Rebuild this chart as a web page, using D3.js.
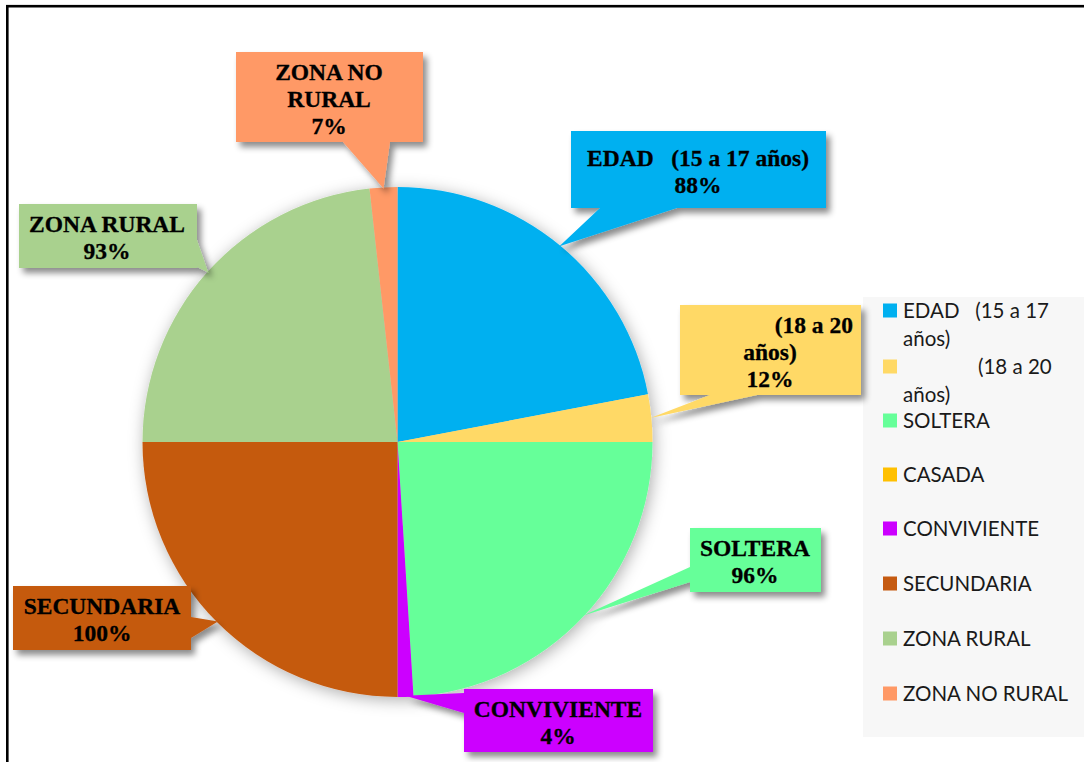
<!DOCTYPE html>
<html><head><meta charset="utf-8">
<script src="https://cdn.jsdelivr.net/npm/d3@7"></script>
<style>body{margin:0;background:#fff}svg{display:block}</style>
</head><body><svg id="c" width="1084" height="762"></svg>
<script>
// ---- data ----
const categories = ["EDAD   (15 a 17 años)", "(18 a 20 años)", "SOLTERA", "CASADA", "CONVIVIENTE", "SECUNDARIA", "ZONA RURAL", "ZONA NO RURAL"];
const values = [88, 12, 96, 0, 4, 100, 93, 7];
const percentLabels = ["88%", "12%", "96%", "0%", "4%", "100%", "93%", "7%"];
const colors = ["#00B0F0", "#FFD966", "#66FF99", "#FFC000", "#CC00FF", "#C55A11", "#A9D18E", "#FF9966"];

// ---- layout ----
const svg = d3.select("#c");
const cx = 397.5, cy = 442, R = 255;
const defs = svg.append("defs");
defs.append("filter").attr("id","pieShadow").attr("x","-20%").attr("y","-20%").attr("width","140%").attr("height","140%")
  .append("feDropShadow").attr("dx",2).attr("dy",3).attr("stdDeviation",8).attr("flood-color","#000").attr("flood-opacity",0.32);
defs.append("filter").attr("id","boxShadow").attr("x","-20%").attr("y","-20%").attr("width","140%").attr("height","150%")
  .append("feDropShadow").attr("dx",4).attr("dy",5).attr("stdDeviation",3).attr("flood-color","#000").attr("flood-opacity",0.45);

// frame
svg.append("rect").attr("x",7.3).attr("y",6.2).attr("width",1200).attr("height",900)
  .attr("fill","none").attr("stroke","#000").attr("stroke-width",2.6);

const pie = d3.pie().sort(null).value(d => d)(values);
const arc = d3.arc().innerRadius(0).outerRadius(R);
const tipArc = d3.arc().innerRadius(R - 1).outerRadius(R - 1);

const g = svg.append("g").attr("transform", `translate(${cx},${cy})`);
g.append("g").attr("filter","url(#pieShadow)")
  .selectAll("path").data(pie).join("path")
  .attr("d", arc).attr("fill", (d,i) => colors[i]);

// legend
const lg = svg.append("g");
lg.append("rect").attr("x",863).attr("y",297).attr("width",230).attr("height",440).attr("fill","#f7f7f7");
const legendY = [311, 367, 421, 475, 529, 584, 639, 694];
const legendIndent = [0, 75, 0, 0, 0, 0, 0, 0];
categories.forEach((name, i) => {
  const y = legendY[i];
  lg.append("rect").attr("x",883).attr("y",y-7.5).attr("width",14).attr("height",14).attr("fill",colors[i]);
  const parts = name.includes(" años)") ? [name.replace(" años)",""), "años)"] : [name];
  parts.forEach((p, j) => {
    lg.append("text").attr("x", 903 + (j === 0 ? legendIndent[i] : 0)).attr("y", y + 7 + j*28)
      .attr("font-family","Lato, 'Open Sans', sans-serif").attr("font-size",20.5)
      .attr("fill","#1a1a1a").style("white-space","pre").text(p);
  });
});

// callouts
const callouts = {
  0: {box:[571,131,255,77], side:"bottom", base:[600,677], cx:698},
  1: {box:[680,305,181,90], side:"bottom", base:[710,757], cx:770, breakAt:" años)", firstEnd:853},
  2: {box:[690,528,131,64], side:"left", base:[567,582], cx:755},
  4: {box:[464,689,189,63], side:"left", base:[693,713], cx:558},
  5: {box:[13,586,178,64], side:"right", base:[617,638], cx:102},
  6: {box:[19,204,178,64], side:"right", base:[240,267], cx:107},
  7: {box:[236,52,187,90], side:"bottom", base:[343,390], cx:329, breakAt:" RURAL"}
};
const lab = svg.append("g");
Object.keys(callouts).forEach(k => {
  const i = +k, c = callouts[k];
  const [x,y,w,h] = c.box;
  const t = tipArc.centroid(pie[i]);
  const tip = [cx + t[0], cy + t[1]];
  const pts = [[x,y],[x+w,y]];
  if (c.side === "right") pts.push([x+w,c.base[0]], tip, [x+w,c.base[1]]);
  pts.push([x+w,y+h]);
  if (c.side === "bottom") pts.push([c.base[1],y+h], tip, [c.base[0],y+h]);
  pts.push([x,y+h]);
  if (c.side === "left") pts.push([x,c.base[1]], tip, [x,c.base[0]]);
  lab.append("path").attr("d", "M" + pts.map(p => p.join(",")).join("L") + "Z")
    .attr("fill", colors[i]).attr("filter","url(#boxShadow)");
  const name = categories[i];
  let lines = c.breakAt ? [name.replace(c.breakAt,""), c.breakAt.trim()] : [name];
  lines.push(percentLabels[i]);
  const n = lines.length;
  lines.forEach((ln, j) => {
    const by = y + h/2 + (j - (n-1)/2) * 27 + 9.5;
    const tx = lab.append("text").attr("y", by)
      .attr("font-family","'Liberation Serif','Times New Roman',serif").attr("font-weight","bold")
      .attr("font-size",23.5).attr("fill","#000").attr("stroke","#000").attr("stroke-width",0.3)
      .style("white-space","pre").text(ln);
    if (j === 0 && c.firstEnd) tx.attr("x", c.firstEnd).attr("text-anchor","end");
    else tx.attr("x", c.cx).attr("text-anchor","middle");
  });
});
</script></body></html>
